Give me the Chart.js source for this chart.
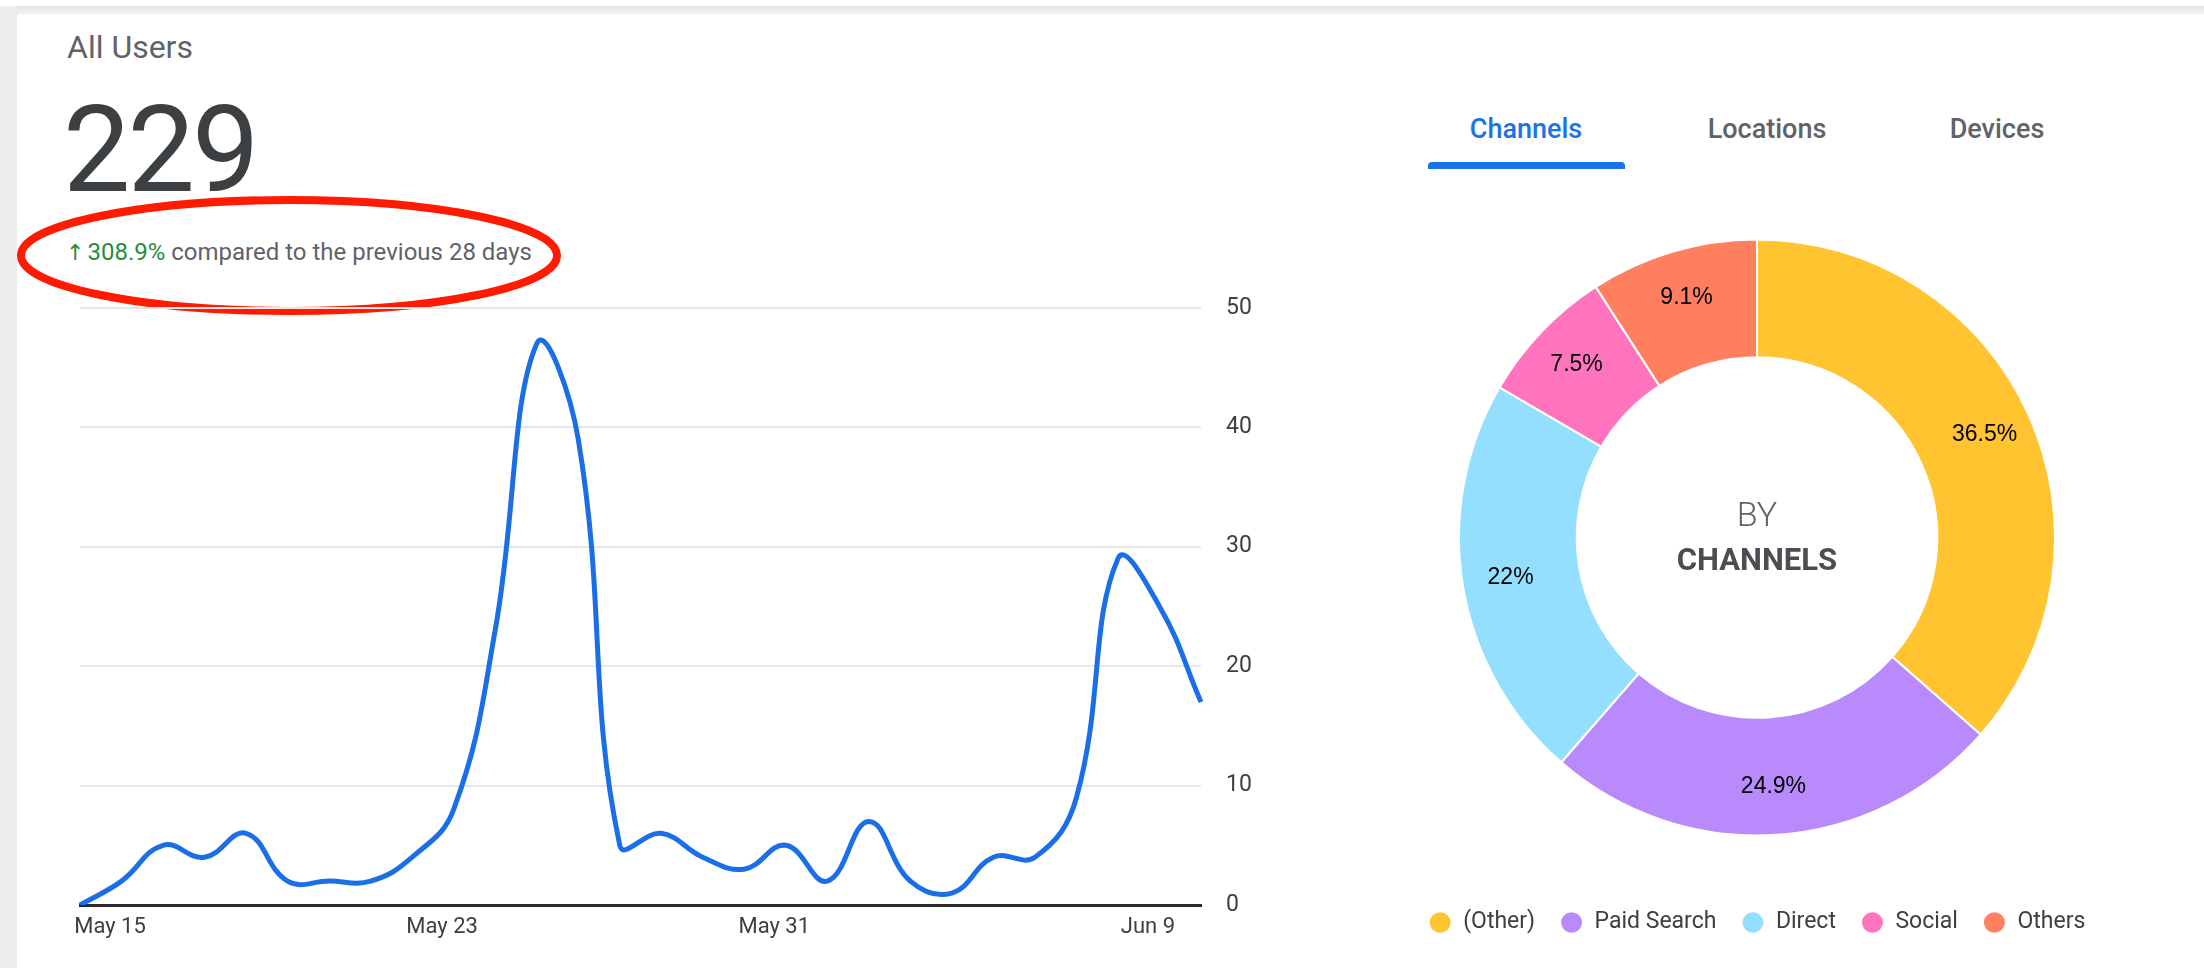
<!DOCTYPE html>
<html>
<head>
<meta charset="utf-8">
<title>All Users</title>
<script src="https://cdn.jsdelivr.net/npm/chart.js"></script>
<style>
  html, body { margin: 0; padding: 0; background: #fff; }
  body { width: 2204px; height: 968px; position: relative; overflow: hidden; font-family: Roboto, "Noto Sans", sans-serif; }
  .strip-left { position: absolute; left: 0; top: 6px; width: 17px; height: 962px; background: #ececec; }
  .strip-top { position: absolute; left: 0; top: 6px; width: 2204px; height: 9px; background: linear-gradient(#e3e3e3, #f6f6f6); }
  .abs { position: absolute; white-space: nowrap; }
  .title { left: 67px; top: 31px; font-size: 32px; line-height: 32px; color: #5f6368; }
  .total { left: 63px; top: 90px; font-size: 120px; line-height: 120px; color: #3c4043; letter-spacing: -3px; }
  .compare { left: 66px; top: 240px; font-size: 24px; line-height: 24px; color: #5f6368; }
  .compare .up { color: #1e8e3e; }
  .compare .arrow { display: inline-block; margin-right: 3px; font-family: "DejaVu Sans", sans-serif; font-size: 22px; line-height: 22px; }
  .tab { top: 116px; font-size: 27px; line-height: 27px; font-weight: 500; color: #5f6368; transform: translateX(-50%); }
  .tab.active { color: #1a73e8; }
  .tab-bar { left: 1428px; top: 162px; width: 197px; height: 7px; background: #1a73e8; border-radius: 4px 4px 0 0; }
  .center-txt { left: 1557px; width: 400px; text-align: center; }
  .by { top: 497px; font-size: 34px; line-height: 34px; font-weight: 300; color: #5f6368; }
  .by-name { top: 544px; font-size: 31px; line-height: 31px; font-weight: 700; color: #4a4d51; }
  #lineBox { position: absolute; left: 0; top: 269px; width: 1300px; height: 686px; }
  #donutBox { position: absolute; left: 1377px; top: 189px; width: 760px; height: 755px; }
</style>
</head>
<body>
<div class="strip-top"></div>
<div class="strip-left"></div>

<div class="abs title">All Users</div>
<div class="abs total">229</div>
<div class="abs compare"><span class="up"><span class="arrow">&#8593;</span>308.9%</span> compared to the previous 28 days</div>
<svg class="abs" style="left:0;top:180px" width="600" height="160">
  <ellipse cx="289" cy="75.5" rx="268" ry="55.5" fill="none" stroke="#ff1a00" stroke-width="8"/>
</svg>

<div class="abs tab active" style="left:1526px">Channels</div>
<div class="abs tab" style="left:1767px">Locations</div>
<div class="abs tab" style="left:1997px">Devices</div>
<div class="abs tab-bar"></div>

<div id="lineBox"><canvas id="chartUsers"></canvas></div>
<div id="donutBox"><canvas id="chartChannels"></canvas></div>

<div class="abs center-txt by">BY</div>
<div class="abs center-txt by-name">CHANNELS</div>

<script>
// daily users, May 15 - Jun 11
const days = ['May 15', 'May 16', 'May 17', 'May 18', 'May 19', 'May 20', 'May 21', 'May 22',
              'May 23', 'May 24', 'May 25', 'May 26', 'May 27', 'May 28', 'May 29', 'May 30',
              'May 31', 'Jun 1', 'Jun 2', 'Jun 3', 'Jun 4', 'Jun 5', 'Jun 6', 'Jun 7',
              'Jun 8', 'Jun 9', 'Jun 10', 'Jun 11'];
const users = [0, 2, 5, 4, 6, 2, 2, 2, 4, 8, 23, 47, 39, 5, 6, 4, 3, 5, 2, 7, 2, 1, 4, 4, 9, 29, 25, 17];
const dayTicks = ['May 15', 'May 23', 'May 31', 'Jun 9'];
const userTicks = [0, 10, 20, 30, 40, 50];

// channels doughnut
const channels = ['(Other)', 'Paid Search', 'Direct', 'Social', 'Others'];
const channelShare = [36.5, 24.9, 22, 7.5, 9.1];
const channelColors = ['#ffc42f', '#b98afb', '#94dffd', '#ff74bc', '#ff7f5f'];

const textColor = '#3c4043';

function renderUsersChart() {
    const ctx = document.getElementById('chartUsers');
    new Chart(ctx, {
        type: 'line',
        data: {
            labels: days,
            datasets: [{
                label: 'Users',
                data: users,
                borderColor: '#1a6fe8',
                borderWidth: 5,
                pointRadius: 0,
                pointHoverRadius: 0,
                tension: 0.42,
                fill: false
            }]
        },
        options: {
            responsive: true,
            maintainAspectRatio: false,
            animation: false,
            layout: { padding: { left: 80, top: 10, right: 0, bottom: 0 } },
            plugins: { legend: { display: false }, tooltip: { enabled: false } },
            scales: {
                x: {
                    grid: { display: false, drawTicks: false },
                    border: { display: true, color: '#2b2b2b', width: 3 },
                    ticks: {
                        autoSkip: false,
                        maxRotation: 0,
                        padding: 9,
                        labelOffset: 30,
                        color: textColor,
                        font: { family: 'Roboto', size: 22 },
                        callback: function(value, index) {
                            const lbl = days[index];
                            return dayTicks.includes(lbl) ? lbl : '';
                        }
                    },
                    afterFit: function(scale) { scale.height = 50; }
                },
                y: {
                    position: 'right',
                    min: userTicks[0],
                    max: userTicks[userTicks.length - 1],
                    border: { display: false },
                    grid: {
                        drawTicks: false,
                        lineWidth: 2,
                        color: function(c) { return c.tick && c.tick.value === 0 ? 'rgba(0,0,0,0)' : '#e6e6ee'; }
                    },
                    afterBuildTicks: function(scale) {
                        scale.ticks = userTicks.map(v => ({ value: v }));
                    },
                    ticks: {
                        padding: 25,
                        color: textColor,
                        font: { family: 'Roboto', size: 23 }
                    },
                    afterFit: function(scale) { scale.width = 99; }
                }
            }
        }
    });
}

const sliceLabels = {
    id: 'sliceLabels',
    afterDatasetsDraw(chart) {
        const meta = chart.getDatasetMeta(0);
        const c = chart.ctx;
        c.save();
        c.font = '23px "Liberation Sans", Arial, sans-serif';
        c.fillStyle = '#000';
        c.textAlign = 'center';
        c.textBaseline = 'middle';
        meta.data.forEach((arc, i) => {
            const p = arc.getProps(['x', 'y', 'startAngle', 'endAngle', 'innerRadius', 'outerRadius'], true);
            const mid = (p.startAngle + p.endAngle) / 2;
            const r = p.innerRadius + (p.outerRadius - p.innerRadius) * 0.59;
            c.fillText(channelShare[i] + '%', p.x + Math.cos(mid) * r, p.y + Math.sin(mid) * r);
        });
        c.restore();
    }
};

function renderChannelsChart() {
    const ctx = document.getElementById('chartChannels');
    new Chart(ctx, {
        type: 'doughnut',
        data: {
            labels: channels,
            datasets: [{
                data: channelShare,
                backgroundColor: channelColors,
                borderColor: '#ffffff',
                borderWidth: 2,
                hoverOffset: 0
            }]
        },
        options: {
            responsive: true,
            maintainAspectRatio: false,
            animation: false,
            radius: 298,
            cutout: '60.5%',
            plugins: {
                tooltip: { enabled: false },
                legend: {
                    position: 'bottom',
                    labels: {
                        usePointStyle: true,
                        pointStyle: 'circle',
                        pointStyleWidth: 23,
                        boxHeight: 16,
                        padding: 25,
                        color: textColor,
                        font: { family: 'Roboto', size: 23 }
                    }
                }
            }
        },
        plugins: [sliceLabels]
    });
}

renderUsersChart();
renderChannelsChart();
</script>
</body>
</html>
